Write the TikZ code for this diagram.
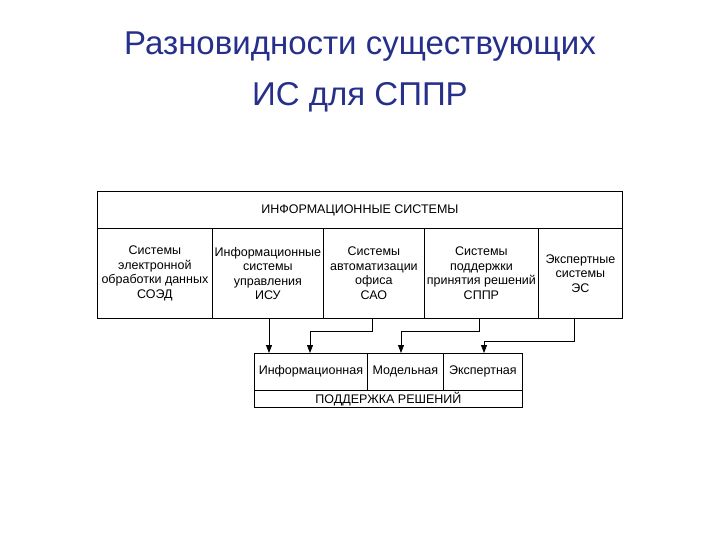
\documentclass[tikz,border=0pt]{standalone}
\usepackage{fontspec}
\setmainfont{Liberation Sans}
\usetikzlibrary{arrows.meta}
\definecolor{ttlblue}{HTML}{26308A}
\begin{document}
\begin{tikzpicture}[x=1pt,y=-1pt,
  cell/.style={draw=black,line width=0.8pt,inner sep=0pt,align=center,font=\fontsize{12.5}{14.5}\selectfont},
  arr/.style={draw=black,line width=0.8pt,-{Triangle[length=8pt,width=6pt]}},
  ttl/.style={font=\fontsize{33}{40}\selectfont,text=ttlblue}]
\useasboundingbox (0,0) rectangle (720,540);
\node[ttl] (t1) at (360,47) {Разновидности существующих};
\node[ttl] (t2) at (360,97) {ИС для СППР};
% top block
\node[cell,minimum width=525,minimum height=37,anchor=north west] (hdr) at (97,191) {ИНФОРМАЦИОННЫЕ СИСТЕМЫ};
\node[cell,minimum width=115,minimum height=90,anchor=north west] (c1) at (97,228) {Системы\\электронной\\обработки данных\\СОЭД};
\node[cell,minimum width=111,minimum height=90,anchor=north west] (c2) at (212,228) {Информационные\\системы\\управления\\ИСУ};
\node[cell,minimum width=101,minimum height=90,anchor=north west] (c3) at (323,228) {Системы\\автоматизации\\офиса\\САО};
\node[cell,minimum width=114,minimum height=90,anchor=north west] (c4) at (424,228) {Системы\\поддержки\\принятия решений\\СППР};
\node[cell,minimum width=84,minimum height=90,anchor=north west] (c5) at (538,228) {Экспертные\\системы\\ЭС};
% bottom block
\tikzset{bcell/.style={cell,text height=9pt,text depth=3pt,minimum height=37,anchor=north west}}
\node[bcell,minimum width=113] (b1) at (254,353) {Информационная};
\node[bcell,minimum width=76] (b2) at (367,353) {Модельная};
\node[bcell,minimum width=79] (b3) at (443,353) {Экспертная};
\node[cell,minimum width=268,minimum height=17,anchor=north west] (b4) at (254,390) {ПОДДЕРЖКА РЕШЕНИЙ};
% arrows
\draw[arr] (c2.south -| 269,0) -- (b1.north -| 269,0);
\draw[arr] (c3.south -| 372,0) |- (310,331) -- (b1.north -| 310,0);
\draw[arr] (c4.south -| 479,0) |- (401,331) -- (b2.north -| 401,0);
\draw[arr] (c5.south -| 574,0) |- (484,341) -- (b3.north -| 484,0);
\end{tikzpicture}
\end{document}
